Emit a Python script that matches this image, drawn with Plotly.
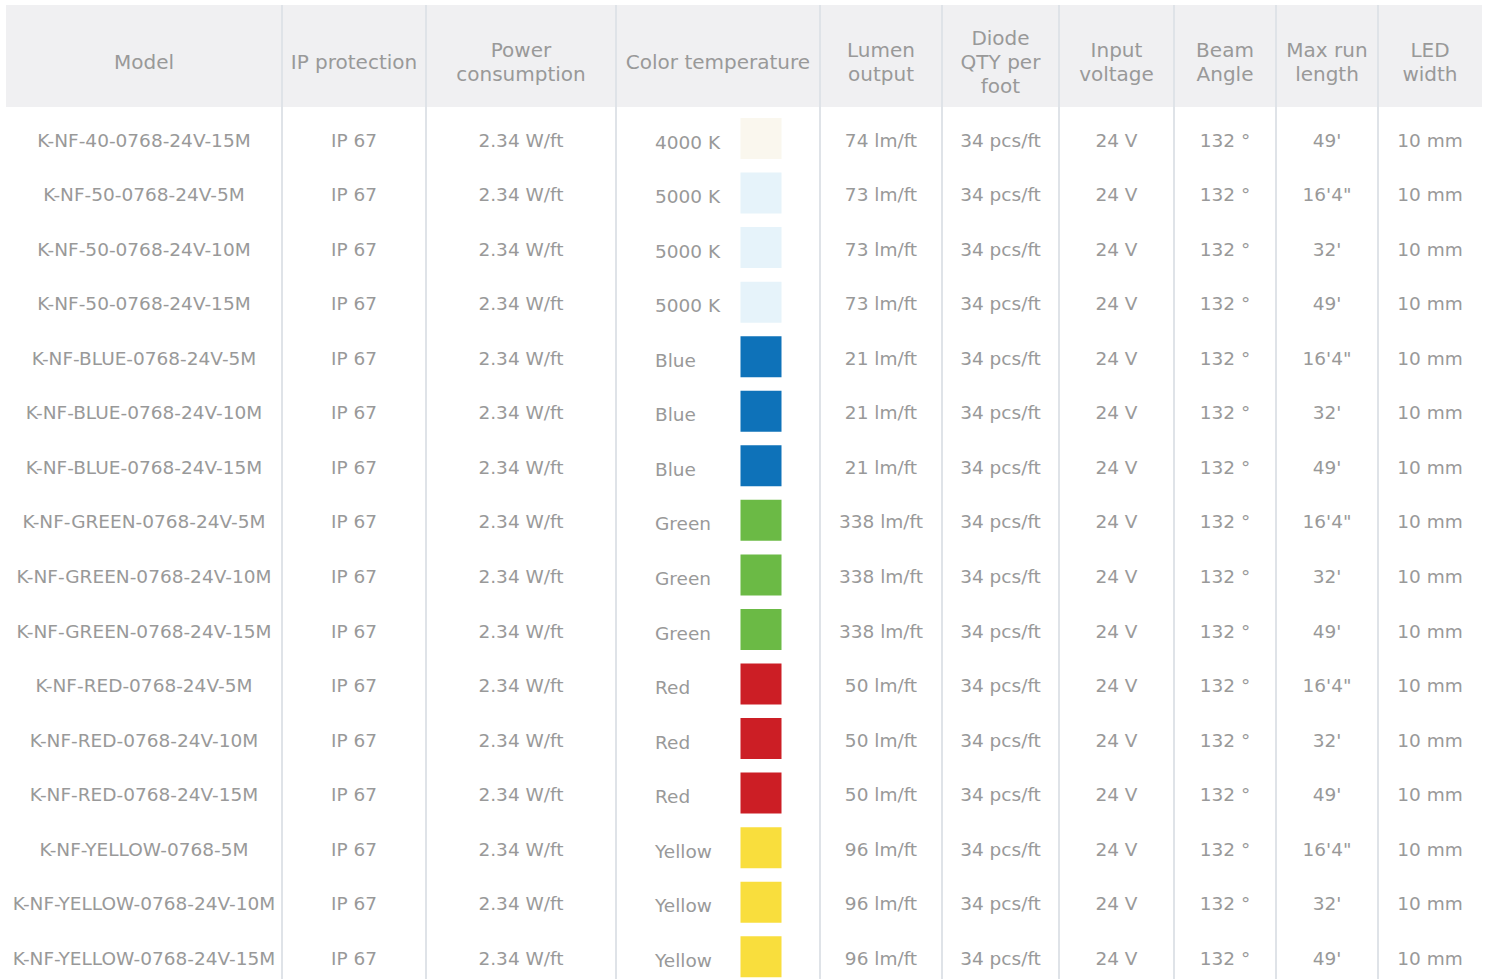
import plotly.graph_objects as go

# ---------------- data ----------------
headers = ["Model", "IP protection", "Power<br>consumption", "Color temperature",
           "Lumen<br>output", "Diode<br>QTY per<br>foot", "Input<br>voltage",
           "Beam<br>Angle", "Max run<br>length", "LED<br>width"]

models = ["K-NF-40-0768-24V-15M", "K-NF-50-0768-24V-5M", "K-NF-50-0768-24V-10M",
          "K-NF-50-0768-24V-15M", "K-NF-BLUE-0768-24V-5M", "K-NF-BLUE-0768-24V-10M",
          "K-NF-BLUE-0768-24V-15M", "K-NF-GREEN-0768-24V-5M", "K-NF-GREEN-0768-24V-10M",
          "K-NF-GREEN-0768-24V-15M", "K-NF-RED-0768-24V-5M", "K-NF-RED-0768-24V-10M",
          "K-NF-RED-0768-24V-15M", "K-NF-YELLOW-0768-5M", "K-NF-YELLOW-0768-24V-10M",
          "K-NF-YELLOW-0768-24V-15M"]
ip_protection = ["IP 67"] * 16
power = ["2.34 W/ft"] * 16
color_temp = ["4000 K", "5000 K", "5000 K", "5000 K", "Blue", "Blue", "Blue",
              "Green", "Green", "Green", "Red", "Red", "Red", "Yellow", "Yellow", "Yellow"]
swatch_colors = ["#faf7ee", "#e6f3fa", "#e6f3fa", "#e6f3fa",
                 "#0e72b9", "#0e72b9", "#0e72b9",
                 "#6bba45", "#6bba45", "#6bba45",
                 "#cc1e25", "#cc1e25", "#cc1e25",
                 "#f9de3d", "#f9de3d", "#f9de3d"]
lumen = [74, 73, 73, 73, 21, 21, 21, 338, 338, 338, 50, 50, 50, 96, 96, 96]
diode_qty = [34] * 16
input_voltage = [24] * 16
beam_angle = [132] * 16
max_run = ["49'", "16'4\"", "32'", "49'", "16'4\"", "32'", "49'", "16'4\"", "32'",
           "49'", "16'4\"", "32'", "49'", "16'4\"", "32'", "49'"]
led_width = [10] * 16

# ---------------- layout constants ----------------
W, H = 1489, 979
col_edges = [6, 282, 426, 616, 820, 942, 1059, 1174, 1276, 1378, 1482]
header_top, header_bottom = 5, 107
header_mid = 64
header_line = 24
row0 = 140
row_h = 54.55
text_shift = 2
text_color = "#999999"
line_color = "#dfe3e8"
header_bg = "#f0f0f2"
font_family = "DejaVu Sans"
body_size = 18.5
header_size = 20

n = len(models)
row_y = [row0 + i * row_h for i in range(n)]
centers = [(col_edges[i] + col_edges[i + 1]) / 2 for i in range(len(col_edges) - 1)]

columns = [
    models,
    ip_protection,
    power,
    None,  # color temperature handled separately
    [f"{v} lm/ft" for v in lumen],
    [f"{v} pcs/ft" for v in diode_qty],
    [f"{v} V" for v in input_voltage],
    [f"{v} °" for v in beam_angle],
    max_run,
    [f"{v} mm" for v in led_width],
]

fig = go.Figure()

# header background
fig.add_shape(type="rect", x0=col_edges[0], x1=col_edges[-1], y0=header_top, y1=header_bottom,
              fillcolor=header_bg, line_width=0, layer="below")
# vertical separators
for x in col_edges[1:-1]:
    fig.add_shape(type="line", x0=x, x1=x, y0=header_top, y1=H + 5,
                  line=dict(color=line_color, width=2), layer="below")

# header texts
hx, hy, ht = [], [], []
for c, label in zip(centers, headers):
    parts = label.split("<br>")
    k = len(parts)
    for j, p in enumerate(parts):
        hx.append(c)
        hy.append(header_mid + (j - (k - 1) / 2) * header_line)
        ht.append(p)
fig.add_trace(go.Scatter(x=hx, y=hy, text=ht, mode="text", textposition="middle center",
                         textfont=dict(family=font_family, size=header_size, color=text_color),
                         hoverinfo="skip", showlegend=False))

# body text columns
bx, by, bt = [], [], []
for ci, col in enumerate(columns):
    if col is None:
        continue
    for i, v in enumerate(col):
        bx.append(centers[ci])
        by.append(row_y[i] + text_shift)
        bt.append(v)
fig.add_trace(go.Scatter(x=bx, y=by, text=bt, mode="text", textposition="middle center",
                         textfont=dict(family=font_family, size=body_size, color=text_color),
                         hoverinfo="skip", showlegend=False))

# color temperature text (left aligned) and swatches
ct_text_x = 655
sw_x = 761
fig.add_trace(go.Scatter(x=[ct_text_x] * n, y=[y + 2 + text_shift for y in row_y], text=color_temp,
                         mode="text", textposition="middle right",
                         textfont=dict(family=font_family, size=body_size, color=text_color),
                         hoverinfo="skip", showlegend=False))
fig.add_trace(go.Scatter(x=[sw_x] * n, y=[y - 1.5 for y in row_y], mode="markers",
                         marker=dict(symbol="square", size=41, color=swatch_colors,
                                     line=dict(width=0)),
                         hoverinfo="skip", showlegend=False))

fig.update_layout(
    width=W, height=H, margin=dict(l=0, r=0, t=0, b=0),
    paper_bgcolor="white", plot_bgcolor="white",
    xaxis=dict(range=[0, W], visible=False, fixedrange=True),
    yaxis=dict(range=[H, 0], visible=False, fixedrange=True),
    showlegend=False,
)

fig.write_html("out.html", config={"displayModeBar": False},
               post_script="document.body.style.margin='0';")
